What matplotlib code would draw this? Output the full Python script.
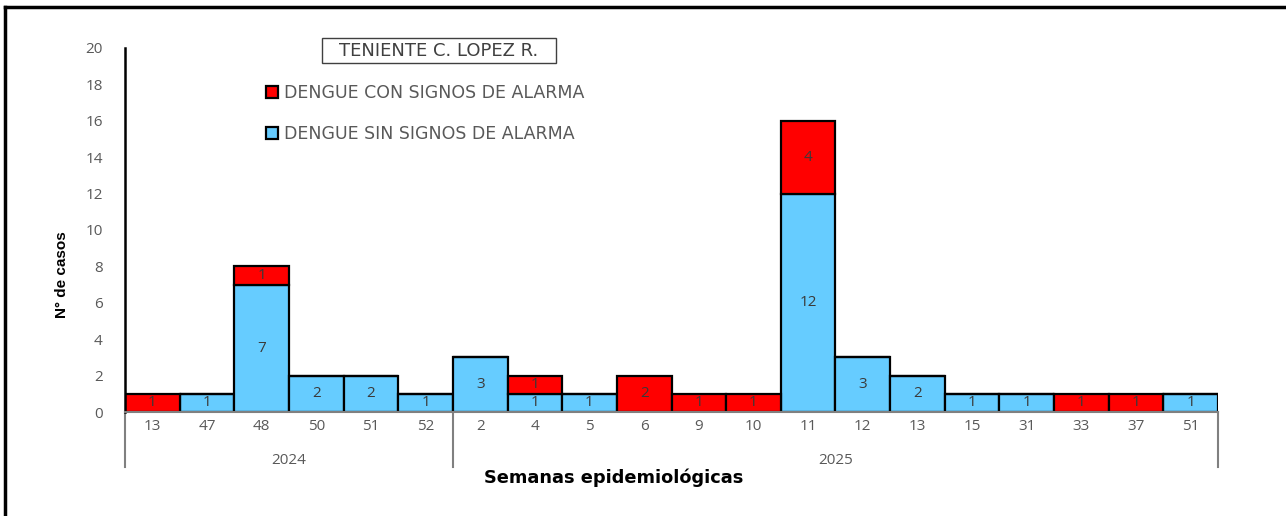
import matplotlib
matplotlib.use("Agg")
import matplotlib.pyplot as plt
import matplotlib.transforms as mtransforms
from matplotlib.lines import Line2D
from matplotlib.patches import Rectangle

weeks = ["13", "47", "48", "50", "51", "52", "2", "4", "5", "6", "9", "10",
         "11", "12", "13", "15", "31", "33", "37", "51"]
years = ["2024"] * 6 + ["2025"] * 14
sin_alarma = [0, 1, 7, 2, 2, 1, 3, 1, 1, 0, 0, 0, 12, 3, 2, 1, 1, 0, 0, 1]
con_alarma = [1, 0, 1, 0, 0, 0, 0, 1, 0, 2, 1, 1, 4, 0, 0, 0, 0, 1, 1, 0]
yticks = [0, 2, 4, 6, 8, 10, 12, 14, 16, 18, 20]
title = "TENIENTE C. LOPEZ R."
lab_con = "DENGUE CON SIGNOS DE ALARMA"
lab_sin = "DENGUE SIN SIGNOS DE ALARMA"

W, H = 1286, 516
fig = plt.figure(figsize=(W / 100, H / 100), dpi=100)
ax = fig.add_axes([125 / W, 1 - 412 / H, (1218 - 125) / W, (412 - 48) / H])

RED = "#FF0000"
BLUE = "#66CCFF"
GRAY_TXT = "#595959"
NUM_FONT = "Open Sans"
TXT_FONT = "DejaVu Sans"

x = list(range(len(weeks)))
b_sin = ax.bar(x, sin_alarma, width=1.0, color=BLUE, edgecolor="black",
               linewidth=1.6, label=lab_sin, zorder=2)
b_con = ax.bar(x, con_alarma, width=1.0, bottom=sin_alarma, color=RED,
               edgecolor="black", linewidth=1.6, label=lab_con, zorder=2)

for i in x:
    if sin_alarma[i] > 0:
        ax.text(i, sin_alarma[i] / 2, str(sin_alarma[i]), ha="center",
                va="center", color="#3a3a3a", fontsize=11, family=NUM_FONT, zorder=3)
    if con_alarma[i] > 0:
        ax.text(i, sin_alarma[i] + con_alarma[i] / 2, str(con_alarma[i]),
                ha="center", va="center", color="#3a3a3a", fontsize=11,
                family=NUM_FONT, zorder=3)

ax.set_xlim(-0.5, len(weeks) - 0.5)
ax.set_ylim(0, 20)
ax.set_yticks(yticks)
ax.set_yticklabels([str(t) for t in yticks], color=GRAY_TXT, fontsize=11,
                   family=NUM_FONT)
ax.tick_params(axis="y", length=0, pad=16)
ax.set_xticks(x)
ax.set_xticklabels(weeks, color=GRAY_TXT, fontsize=11, family=NUM_FONT)
ax.tick_params(axis="x", length=0, pad=5)

for s in ["top", "right"]:
    ax.spines[s].set_visible(False)
ax.spines["left"].set_color("black")
ax.spines["left"].set_linewidth(1.8)
ax.spines["bottom"].set_color("#808080")
ax.spines["bottom"].set_linewidth(1.5)

# Year grouping
trans = mtransforms.blended_transform_factory(ax.transData, ax.transAxes)
groups = []
for i, yv in enumerate(years):
    if not groups or groups[-1][0] != yv:
        groups.append([yv, i, i])
    else:
        groups[-1][2] = i
sep_bottom = -(467 - 412) / (412 - 48)
for yv, i0, i1 in groups:
    ax.text((i0 + i1) / 2, -(460 - 412) / (412 - 48), yv, transform=trans,
            ha="center", va="center", color=GRAY_TXT, fontsize=11, family=NUM_FONT)
bounds = sorted(set([g[1] - 0.5 for g in groups] + [g[2] + 0.5 for g in groups]))
for bx in bounds:
    ax.add_line(Line2D([bx, bx], [0, sep_bottom], transform=trans, color="#808080",
                       linewidth=1.5, clip_on=False))

fig.text(614 / W, 1 - 478 / H, "Semanas epidemiológicas", ha="center", va="center",
         fontsize=12.8, fontweight="bold", family=TXT_FONT)
fig.text(62 / W, 1 - 275 / H, "N° de casos", ha="center", va="center", rotation=90,
         fontsize=11, fontweight="bold", family="Liberation Sans")

# Title box
fig.add_artist(Rectangle((322 / W, 1 - 63 / H), (556 - 322) / W, 25 / H,
                         transform=fig.transFigure, facecolor="white",
                         edgecolor="#404040", linewidth=1.0))
fig.text(439 / W, 1 - 51 / H, title, ha="center", va="center", fontsize=13,
         color="#404040", family=TXT_FONT)

leg = fig.legend([b_con, b_sin], [lab_con, lab_sin], loc="upper left",
                 bbox_to_anchor=(266 / W, 1 - 84 / H), frameon=False,
                 borderpad=0, borderaxespad=0, handlelength=0.69, handleheight=0.69,
                 handletextpad=0.33, labelspacing=1.33,
                 prop={"family": TXT_FONT, "size": 12.5})
for t in leg.get_texts():
    t.set_color(GRAY_TXT)

# Outer frame lines (top and left)
fig.add_artist(Line2D([5 / W, 1], [1 - 7 / H, 1 - 7 / H], color="black", linewidth=2.5,
                      transform=fig.transFigure))
fig.add_artist(Line2D([5 / W, 5 / W], [0, 1 - 7 / H], color="black", linewidth=2.5,
                      transform=fig.transFigure))

fig.savefig("out.png", dpi=100)
